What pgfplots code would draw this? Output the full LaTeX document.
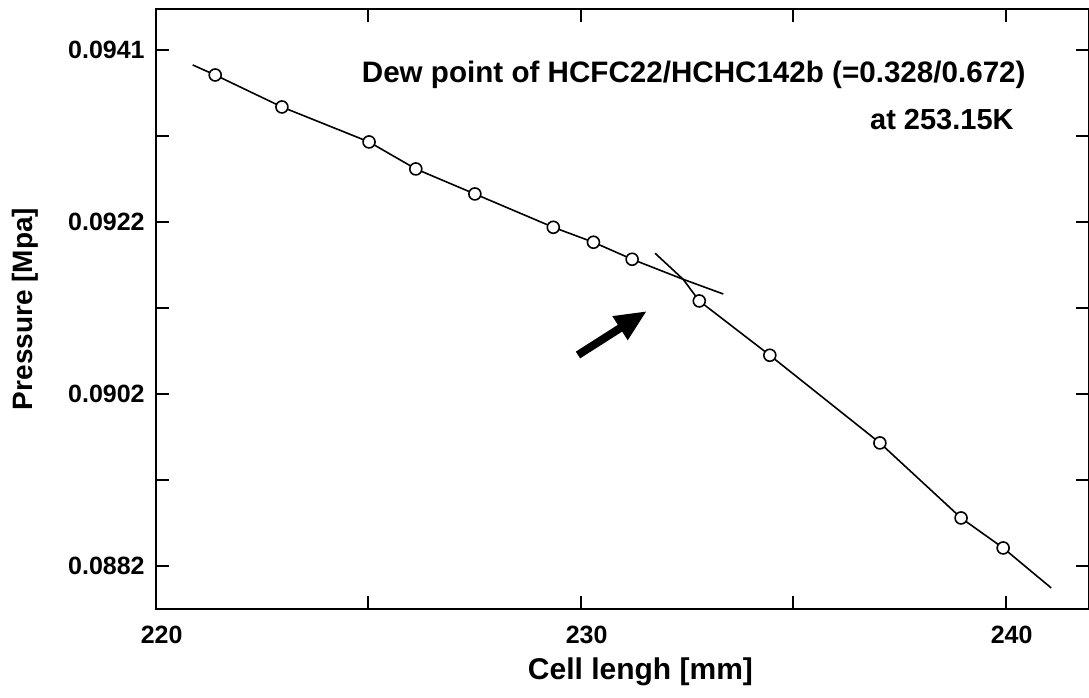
\documentclass[border=0pt]{standalone}
\usepackage{fontspec}
\setmainfont{Liberation Sans}
\usepackage{pgfplots}
\pgfplotsset{compat=1.18}
\usetikzlibrary{arrows.meta}
\begin{document}
\begin{tikzpicture}
\begin{axis}[
  scale only axis, width=466.65pt, height=300pt,
  xmin=220, xmax=241.96, ymin=0.087696, ymax=0.094677,
  axis line style={line width=1.1pt},
  tick style={line width=0.9pt, black},
  tick align=inside,
  major tick length=6.5pt, minor tick length=6.5pt,
  xtick={220,230,240}, xticklabels={220,230,240},
  minor xtick={225,235},
  ytick={0.0882,0.0902,0.0922,0.0942},
  yticklabels={0.0882,0.0902,0.0922,0.0941},
  minor ytick={0.0892,0.0912,0.0932},
  scaled y ticks=false, scaled x ticks=false,
  /pgf/number format/assume math mode=true,
  ticklabel style={font=\fontsize{12.5}{14}\selectfont\bfseries},
  xticklabel style={yshift=-5pt, xshift=3pt},
  yticklabel style={xshift=-2pt},
  xlabel={Cell lengh [mm]}, ylabel={Pressure [Mpa]},
  xlabel style={font=\fontsize{15}{17}\selectfont\bfseries,
    at={(axis description cs:0.5194,-0.1183)}, anchor=base},
  ylabel style={font=\fontsize{14}{16}\selectfont\bfseries,
    at={(axis description cs:-0.1318,0.5)}, anchor=base},
  clip=false,
]
% upper fitted line
\addplot[black, line width=0.8pt, no marks] coordinates {
  (220.87,0.094026) (221.40,0.093909) (222.97,0.093537) (225.02,0.093130)
  (226.12,0.092816) (227.51,0.092525) (229.355,0.092137) (230.30,0.091963)
  (231.21,0.091765) (232.41,0.091532) (233.355,0.091361)
};
% lower fitted line
\addplot[black, line width=0.8pt, no marks] coordinates {
  (231.75,0.091835) (232.41,0.091532) (232.79,0.091280) (234.45,0.090648)
  (237.04,0.089628) (238.95,0.088755) (239.94,0.088406) (241.07,0.087941)
};
% measured points
\addplot[only marks, mark=*, mark size=3pt,
  mark options={fill=white, draw=black, line width=0.8pt}] coordinates {
  (221.40,0.093909) (222.97,0.093537) (225.02,0.093130) (226.12,0.092816)
  (227.51,0.092525) (229.355,0.092137) (230.30,0.091963) (231.21,0.091765)
  (232.79,0.091280) (234.45,0.090648) (237.04,0.089628) (238.95,0.088755)
  (239.94,0.088406)
};
\draw[line width=4pt, -{Triangle[length=16pt,width=13pt]}]
  (axis cs:229.936,0.090651) -- (axis cs:231.56,0.091163);
\node[anchor=base east, inner sep=0pt, font=\fontsize{14.8}{17}\selectfont\bfseries]
  at (axis cs:240.478,0.093816) {Dew point of HCFC22/HCHC142b (=0.328/0.672)};
\node[anchor=base east, inner sep=0pt, font=\fontsize{14.5}{17}\selectfont\bfseries]
  at (axis cs:240.196,0.093269) {at 253.15K};
\end{axis}
\pgfresetboundingbox
\path[use as bounding box] ([xshift=-77.85pt,yshift=-44.5pt]current axis.south west)
  rectangle ([yshift=4.5pt]current axis.north east);
\end{tikzpicture}
\end{document}
